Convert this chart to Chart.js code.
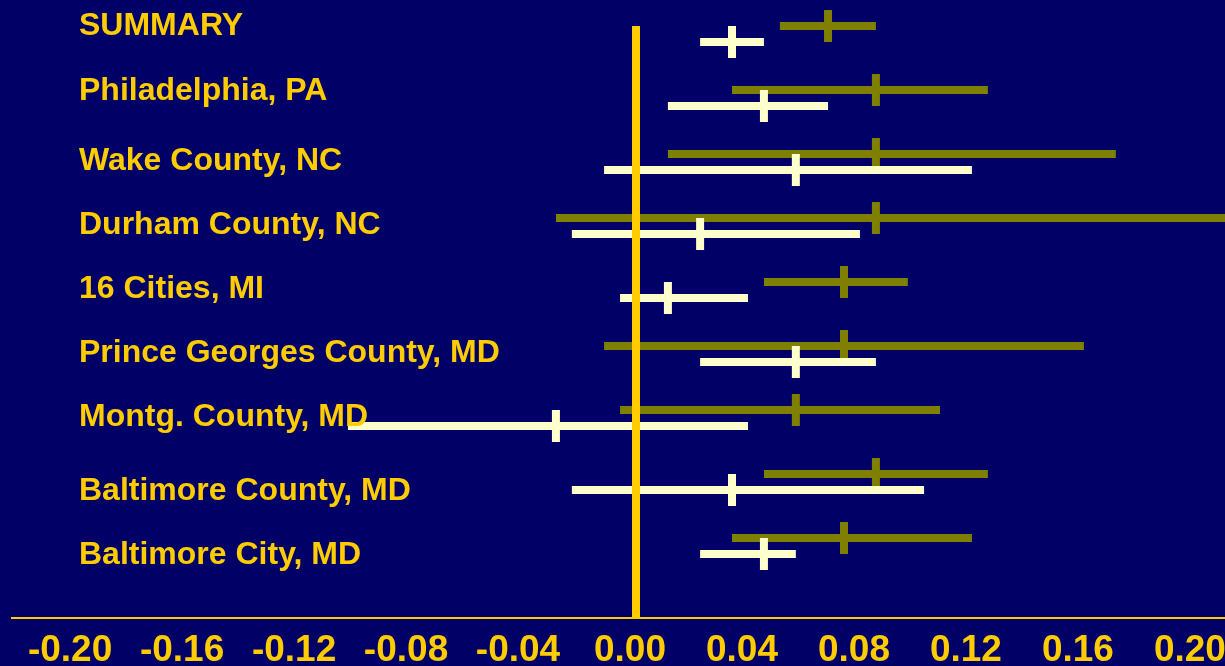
<!DOCTYPE html>
<html>
<head>
<meta charset="utf-8">
<script src="https://cdn.jsdelivr.net/npm/chart.js@4/dist/chart.umd.min.js"></script>
<style>
  html, body { margin: 0; padding: 0; background: #000066; }
  canvas { display: block; }
</style>
</head>
<body>
<canvas id="forestChart" width="1225" height="666"></canvas>
<script>
const categories = [
  'SUMMARY',
  'Philadelphia, PA',
  'Wake County, NC',
  'Durham County, NC',
  '16 Cities, MI',
  'Prince Georges County, MD',
  'Montg. County, MD',
  'Baltimore County, MD',
  'Baltimore City, MD',
];

// olive series: estimate with lower / upper bounds
const oliveEstimate = [0.0686, 0.0857, 0.0857, 0.0857, 0.0743, 0.0743, 0.0571, 0.0857, 0.0743];
const oliveLower = [0.0514, 0.0343, 0.0114, -0.0286, 0.0457, -0.0114, -0.0057, 0.0457, 0.0343];
const oliveUpper = [0.0857, 0.1257, 0.1714, 0.2250, 0.0971, 0.1600, 0.1086, 0.1257, 0.1200];

// cream series: estimate with lower / upper bounds
const creamEstimate = [0.0343, 0.0457, 0.0571, 0.0229, 0.0114, 0.0571, -0.0286, 0.0343, 0.0457];
const creamLower = [0.0229, 0.0114, -0.0114, -0.0229, -0.0057, 0.0229, -0.1029, -0.0229, 0.0229];
const creamUpper = [0.0457, 0.0686, 0.1200, 0.0800, 0.0400, 0.0857, 0.0400, 0.1029, 0.0571];

const xTicks = [-0.20, -0.16, -0.12, -0.08, -0.04, 0.00, 0.04, 0.08, 0.12, 0.16, 0.20];
const referenceValue = 0;

const YELLOW = '#FFCC00';
const OLIVE = '#808000';
const CREAM = '#FFFFCC';

const creamOffset = 0.25;
const yMax = 9.25;
// small nudges so labels sit where they do in the slide
const labelShift = [-7, -6, 0, 0, 0, 0, 0, 10, 10];

function ciDataset(lower, estimate, upper, row, color, order) {
  return {
    data: [
      { x: lower, y: row },
      { x: estimate, y: row },
      { x: upper, y: row },
    ],
    showLine: true,
    borderColor: color,
    borderWidth: 8,
    borderCapStyle: 'butt',
    pointStyle: 'line',
    rotation: 90,
    pointRadius: (ctx) => (ctx.dataIndex === 1 ? 16 : 0),
    pointBorderWidth: 8,
    pointBorderColor: color,
    pointBackgroundColor: color,
    clip: false,
    order: order,
  };
}

const datasets = [
  {
    data: [
      { x: referenceValue, y: 0 },
      { x: referenceValue, y: yMax },
    ],
    showLine: true,
    borderColor: YELLOW,
    borderWidth: 8,
    pointRadius: 0,
    order: 0,
  },
];

categories.forEach((name, i) => {
  datasets.push(ciDataset(creamLower[i], creamEstimate[i], creamUpper[i], i + creamOffset, CREAM, 1));
  datasets.push(ciDataset(oliveLower[i], oliveEstimate[i], oliveUpper[i], i, OLIVE, 2));
});

const rowLabels = {
  id: 'rowLabels',
  afterDatasetsDraw(chart) {
    const { ctx } = chart;
    const y = chart.scales.y;
    ctx.save();
    ctx.font = 'bold 32px "Liberation Sans", Arial, sans-serif';
    ctx.fillStyle = YELLOW;
    ctx.textAlign = 'left';
    ctx.textBaseline = 'alphabetic';
    categories.forEach((name, i) => {
      ctx.fillText(name, 79, y.getPixelForValue(i + creamOffset) + labelShift[i]);
    });
    ctx.restore();
  },
};

new Chart(document.getElementById('forestChart').getContext('2d'), {
  type: 'scatter',
  data: { datasets: datasets },
  options: {
    responsive: false,
    animation: false,
    events: [],
    layout: { padding: { top: 26, left: 12, right: 0, bottom: 0 } },
    plugins: {
      legend: { display: false },
      tooltip: { enabled: false },
    },
    scales: {
      x: {
        type: 'linear',
        min: -0.2229,
        max: 0.2104,
        afterBuildTicks: (scale) => {
          scale.ticks = xTicks.map((v) => ({ value: v }));
        },
        afterFit: (scale) => {
          scale.paddingLeft = 0;
          scale.paddingRight = 0;
          scale.height = 48;
        },
        grid: { display: false, drawTicks: false },
        border: { display: true, color: YELLOW, width: 2 },
        ticks: {
          color: YELLOW,
          font: { family: '"Liberation Sans", Arial, sans-serif', size: 37, weight: 'bold' },
          padding: 11,
          labelOffset: -6,
          autoSkip: false,
          maxRotation: 0,
          callback: (value) => Number(value).toFixed(2),
        },
      },
      y: {
        type: 'linear',
        display: false,
        reverse: true,
        min: 0,
        max: yMax,
      },
    },
  },
  plugins: [rowLabels],
});
</script>
</body>
</html>
